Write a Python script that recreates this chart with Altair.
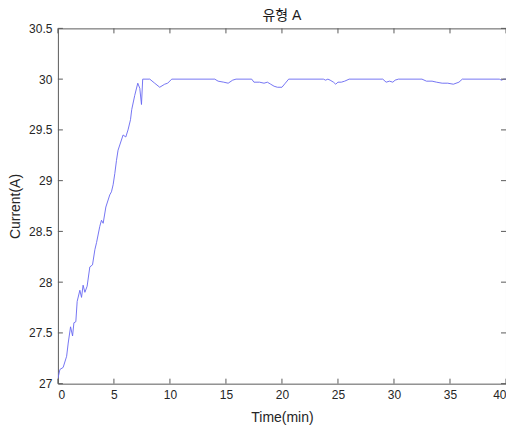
import altair as alt
import pandas as pd

# time (min) and current (A)
time_min = [0.0, 0.18, 0.47, 0.78, 0.92, 1.13, 1.31, 1.43, 1.60, 1.72, 1.96, 2.11, 2.25, 2.41, 2.61,
            2.85, 3.09, 3.30, 3.45, 3.74, 3.89, 4.04, 4.28, 4.63, 4.78, 4.93, 5.08, 5.23, 5.37,
            5.67, 5.82, 6.06, 6.26, 6.48, 6.59, 6.86, 7.13, 7.31, 7.46, 7.57, 8.2, 8.64, 9.09,
            9.53, 9.80, 10.16,
            14.0, 14.3, 14.8, 15.2, 15.6, 15.9, 17.3, 17.5, 18.0, 18.4, 18.7, 19.0, 19.3, 19.6,
            20.0, 20.3, 20.6, 23.7, 23.9, 24.1, 24.3, 24.6, 24.8, 25.0, 25.3, 25.6, 26.0, 29.0,
            29.3, 29.6, 29.9, 30.1, 30.4, 32.5, 32.9, 33.4, 33.8, 34.3, 34.8, 35.3, 35.8, 36.1,
            39.4, 39.6, 39.8, 40.0]
current_a = [27.05, 27.14, 27.16, 27.27, 27.40, 27.56, 27.47, 27.60, 27.61, 27.81, 27.92, 27.85,
             27.97, 27.90, 27.96, 28.15, 28.17, 28.32, 28.39, 28.55, 28.61, 28.58, 28.74, 28.86,
             28.89, 28.96, 29.07, 29.20, 29.30, 29.40, 29.45, 29.43, 29.50, 29.60, 29.70, 29.84,
             29.96, 29.91, 29.75, 30.00, 30.00, 29.96, 29.92, 29.95, 29.96, 30.00,
             30.00, 29.98, 29.97, 29.96, 29.99, 30.00, 30.00, 29.97, 29.97, 29.96, 29.97, 29.95,
             29.93, 29.92, 29.92, 29.96, 30.00, 30.00, 29.99, 30.00, 29.99, 29.97, 29.95, 29.97,
             29.97, 29.98, 30.00, 30.00, 29.97, 29.98, 29.97, 29.99, 30.00, 30.00, 29.98, 29.98,
             29.97, 29.96, 29.96, 29.95, 29.97, 30.00, 30.00, 29.99, 30.00, 30.00]

x_ticks = [0, 5, 10, 15, 20, 25, 30, 35, 40]
y_ticks = [27, 27.5, 28, 28.5, 29, 29.5, 30, 30.5]
chart_title = ["유형 A"]

W, H = 449, 356
FONT = "Liberation Sans, Arial, Noto Sans CJK KR, sans-serif"
FRAME = "#5a5a5a"

df = pd.DataFrame({"t": time_min, "I": current_a})
xt = pd.DataFrame({"v": x_ticks})
yt = pd.DataFrame({"v": y_ticks})
tt = pd.DataFrame({"label": chart_title})

xscale = alt.Scale(domain=[0, 40], nice=False, zero=False)
yscale = alt.Scale(domain=[27, 30.5], nice=False, zero=False)

line = alt.Chart(df).mark_line(color="#6666f2", strokeWidth=0.9, clip=True).encode(
    x=alt.X("t:Q", scale=xscale,
            axis=alt.Axis(values=x_ticks, title="Time(min)", ticks=False, tickSize=0,
                          domain=False, grid=False, labelPadding=6, titlePadding=10,
                          format="~g")),
    y=alt.Y("I:Q", scale=yscale,
            axis=alt.Axis(values=y_ticks, title="Current(A)", ticks=False, tickSize=0,
                          domain=False, grid=False, labelPadding=6, titlePadding=6,
                          format="~g")),
)

tick_len = 5
bx = alt.Chart(xt).mark_rule(color=FRAME, strokeWidth=1).encode(
    x=alt.X("v:Q", scale=xscale), y=alt.value(H), y2=alt.value(H - tick_len))
tx = alt.Chart(xt).mark_rule(color=FRAME, strokeWidth=1).encode(
    x=alt.X("v:Q", scale=xscale), y=alt.value(0), y2=alt.value(tick_len))
ly = alt.Chart(yt).mark_rule(color=FRAME, strokeWidth=1).encode(
    y=alt.Y("v:Q", scale=yscale), x=alt.value(0), x2=alt.value(tick_len))
ry = alt.Chart(yt).mark_rule(color=FRAME, strokeWidth=1).encode(
    y=alt.Y("v:Q", scale=yscale), x=alt.value(W), x2=alt.value(W - tick_len))

title = alt.Chart(tt).mark_text(font=FONT, fontSize=14, color="#1a1a1a",
                                 baseline="alphabetic", align="center").encode(
    text="label:N", x=alt.value(W / 2), y=alt.value(-8))

chart = alt.layer(line, bx, tx, ly, ry, title).properties(
    width=W, height=H,
    autosize=alt.AutoSizeParams(type="none"),
    padding={"left": 50, "top": 20, "right": 0, "bottom": 44},
).configure_view(
    stroke=FRAME, strokeWidth=1
).configure_axis(
    labelFont=FONT, titleFont=FONT, labelFontSize=12, titleFontSize=14,
    labelColor="#262626", titleColor="#262626", titleFontWeight="normal"
)

chart.save("out.html", embed_options={"renderer": "svg", "actions": False})
